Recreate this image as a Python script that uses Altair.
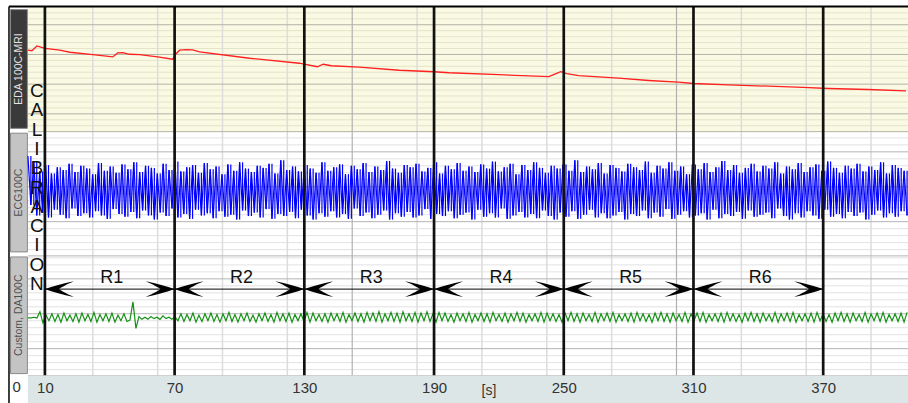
import altair as alt
import pandas as pd

FONT = "Liberation Sans"

# ---------------- time window (s) ----------------
T_LEFT, T_RIGHT = -6.615, 409.23      # visible window, incl. the channel-label column
TRACE_START, TRACE_END = 2.15, 408.8  # first / last sample of the recording

# ---------------- annotations ----------------
markers = [10, 70, 130, 190, 250, 310, 370]
regions = ["R1", "R2", "R3", "R4", "R5", "R6"]
side_word = "CALIBRACION"

# time grid of the acquisition software (every 30 s, heavier every 150 s)
vgrid_light = [32.15, 62.15, 92.15, 122.15, 182.15, 212.15, 242.15, 272.15,
               332.15, 362.15, 392.15]
vgrid_dark = [152.15, 302.15]

# ---------------- EDA 100C-MRI (microsiemens) ----------------
eda_t = [2.15, 4.0, 6.31, 7.69, 10.0, 16.92, 21.54, 32.15, 41.38, 43.69, 46.0,
         49.23, 53.85, 62.15, 69.08, 70.46, 72.31, 75.54, 78.31, 81.54, 104.62,
         127.69, 136.0, 138.77, 142.46, 155.38, 173.85, 190.0, 196.92, 220.0,
         243.08, 245.85, 248.62, 251.38, 256.92, 266.15, 275.38, 289.23, 303.08,
         310.0, 326.15, 344.62, 360.77, 372.31, 390.77, 408.31]
eda_us = [15.71, 15.62, 16.43, 16.29, 16.04, 15.71, 15.37, 14.98, 14.58, 15.25,
          15.32, 15.03, 14.98, 14.58, 14.19, 15.03, 15.71, 15.82, 15.76, 15.45,
          14.36, 13.52, 12.93, 13.35, 13.10, 12.85, 12.34, 12.09, 11.92, 11.59,
          11.25, 11.67, 12.09, 11.76, 11.42, 11.22, 11.00, 10.61, 10.33, 10.11,
          9.87, 9.66, 9.44, 9.27, 9.10, 8.87]

# ---------------- ECG100C (mV), evenly sampled min/max excursions ----------------
ecg_mv = [
    0.44, -0.26, 0.36, -0.41, 0.22, -0.37, 0.31, -0.44, 0.19, -0.33, 0.28, -0.40, 0.24, -0.45, 0.33, -0.31, 0.21, -0.42, 0.30, -0.38,
    0.26, -0.44, 0.18, -0.35, 0.34, -0.41, 0.23, -0.46, 0.29, -0.32, 0.20, -0.39, 0.32, -0.43, 0.25, -0.36, 0.35, -0.45, 0.21, -0.34,
    0.30, -0.41, 0.27, -0.47, 0.19, -0.37, 0.33, -0.42, 0.24, -0.31, 0.36, -0.44, 0.22, -0.39, 0.28, -0.46, 0.31, -0.33, 0.20, -0.41,
    0.34, -0.38, 0.25, -0.45, 0.29, -0.35, 0.18, -0.43, 0.32, -0.40, 0.23, -0.47, 0.35, -0.34, 0.26, -0.42, 0.21, -0.37, 0.30, -0.44,
    0.27, -0.32, 0.33, -0.46, 0.19, -0.39, 0.38, -0.42, 0.24, -0.36, 0.29, -0.45, 0.22, -0.33, 0.31, -0.41, 0.26, -0.47, 0.20, -0.38,
    0.35, -0.43, 0.23, -0.35, 0.28, -0.44, 0.32, -0.39, 0.18, -0.46, 0.30, -0.31, 0.25, -0.42, 0.34, -0.37, 0.21, -0.45, 0.29, -0.40,
    0.24, -0.34, 0.37, -0.47, 0.26, -0.38, 0.20, -0.43, 0.31, -0.36, 0.28, -0.44, 0.33, -0.41, 0.22, -0.32, 0.27, -0.46, 0.35, -0.39,
    0.19, -0.42, 0.30, -0.35, 0.25, -0.45, 0.34, -0.40, 0.23, -0.37, 0.29, -0.47, 0.21, -0.33, 0.32, -0.43, 0.26, -0.38, 0.36, -0.44,
    0.22, -0.31, 0.28, -0.46, 0.33, -0.41, 0.18, -0.36, 0.31, -0.44, 0.24, -0.39, 0.35, -0.45, 0.27, -0.34, 0.20, -0.42, 0.30, -0.47,
    0.26, -0.37, 0.32, -0.43, 0.23, -0.35, 0.38, -0.46, 0.21, -0.40, 0.29, -0.33, 0.25, -0.44, 0.34, -0.38, 0.19, -0.45, 0.31, -0.41,
    0.27, -0.36, 0.22, -0.47, 0.33, -0.39, 0.28, -0.42, 0.24, -0.34, 0.36, -0.45, 0.20, -0.37, 0.30, -0.43, 0.26, -0.32, 0.35, -0.46,
    0.23, -0.40, 0.29, -0.35, 0.18, -0.44, 0.32, -0.41, 0.25, -0.38, 0.34, -0.47, 0.21, -0.33, 0.28, -0.45, 0.37, -0.39, 0.24, -0.42,
    0.31, -0.36, 0.20, -0.46, 0.27, -0.34, 0.33, -0.43, 0.22, -0.40, 0.30, -0.37, 0.26, -0.45, 0.35, -0.31, 0.19, -0.42, 0.29, -0.47,
    0.25, -0.38, 0.34, -0.44, 0.21, -0.35, 0.28, -0.41, 0.32, -0.46, 0.23, -0.33, 0.36, -0.43, 0.27, -0.39, 0.20, -0.45, 0.30, -0.36,
    0.26, -0.42, 0.33, -0.37, 0.22, -0.47, 0.29, -0.40, 0.24, -0.34, 0.35, -0.44, 0.19, -0.38, 0.31, -0.43, 0.27, -0.35, 0.23, -0.41,
]

# ---------------- Custom, DA100C (V), evenly sampled ----------------
da_v = [
    -0.06, -0.06, -0.05, -0.06, 0.03, -0.13, -0.02, -0.10, 0.00, -0.11,
    -0.01, -0.12, 0.01, -0.10, -0.02, -0.11, 0.00, -0.12, 0.01, -0.10,
    -0.01, -0.11, 0.02, -0.12, -0.01, -0.10, 0.00, -0.11, 0.01, -0.12,
    -0.02, -0.10, 0.00, -0.11, -0.09, 0.17, -0.21, -0.04, -0.08, -0.05,
    -0.08, -0.04, -0.07, -0.05, -0.08, -0.03, -0.07, -0.05, -0.08, -0.04,
    -0.10, 0.00, -0.11, -0.01, -0.10, 0.01, -0.12, -0.02, -0.11, 0.00,
    -0.10, 0.01, -0.11, -0.01, -0.12, 0.00, -0.10, 0.02, -0.11, -0.01,
    -0.12, 0.00, -0.10, 0.01, -0.11, -0.02, -0.12, 0.00, -0.10, 0.01,
    -0.11, -0.01, -0.12, 0.02, -0.10, 0.00, -0.11, 0.01, -0.12, -0.01,
    -0.10, 0.00, -0.11, 0.02, -0.12, 0.01, -0.10, -0.01, -0.11, 0.00,
    -0.12, 0.01, -0.10, 0.00, -0.11, 0.02, -0.12, -0.01, -0.10, 0.01,
    -0.11, 0.00, -0.12, 0.02, -0.10, 0.01, -0.11, 0.03, -0.12, 0.00,
    -0.10, 0.02, -0.11, 0.01, -0.12, 0.03, -0.10, 0.00, -0.11, 0.02,
    -0.12, 0.01, -0.10, 0.03, -0.11, 0.00, -0.12, 0.02, -0.10, 0.01,
    -0.11, -0.01, -0.12, 0.01, -0.10, 0.00, -0.11, 0.02, -0.12, -0.01,
    -0.10, 0.01, -0.11, 0.00, -0.12, 0.02, -0.10, -0.01, -0.11, 0.01,
    -0.12, 0.00, -0.10, 0.02, -0.11, 0.01, -0.12, -0.01, -0.10, 0.00,
    -0.11, 0.02, -0.12, 0.01, -0.10, 0.00, -0.11, -0.01, -0.12, 0.01,
    -0.10, 0.02, -0.11, 0.00, -0.12, 0.01, -0.10, -0.01, -0.11, 0.02,
    -0.12, 0.00, -0.10, 0.01, -0.11, 0.02, -0.12, -0.01, -0.10, 0.00,
    -0.11, 0.01, -0.12, 0.02, -0.10, 0.00, -0.11, -0.01, -0.12, 0.01,
    -0.10, 0.02, -0.11, 0.00, -0.12, 0.01, -0.10, -0.01, -0.11, 0.02,
    -0.12, 0.00, -0.10, 0.01, -0.11, 0.02, -0.12, -0.01, -0.10, 0.00,
    -0.11, 0.01, -0.12, 0.02, -0.10, 0.00, -0.11, -0.01, -0.12, 0.01,
    -0.10, 0.02, -0.11, 0.00, -0.12, 0.01, -0.10, -0.01, -0.11, 0.02,
    -0.12, 0.00, -0.10, 0.01, -0.11, 0.02, -0.12, -0.01, -0.10, 0.00,
    -0.11, 0.01, -0.12, 0.02, -0.10, 0.00, -0.11, -0.01, -0.12, 0.01,
    -0.10, 0.02, -0.11, 0.00, -0.12, 0.01, -0.10, -0.01, -0.11, 0.02,
    -0.12, 0.00, -0.10, 0.01, -0.11, 0.02, -0.12, -0.01, -0.10, 0.00,
    -0.11, 0.01, -0.12, 0.02,
]

# grid levels of each channel, in the channel's own units
eda_minor = [3, 4, 6, 7, 8, 9, 11, 12, 13, 14, 16, 17, 18, 19, 21, 22]
eda_major = [5, 10, 15, 20]
ecg_minor = [-0.9, -0.8, -0.7, -0.6, -0.4, -0.3, -0.2, -0.1, 0.1, 0.2, 0.3, 0.4, 0.6, 0.7]
ecg_major = [-0.5, 0.0, 0.5]
da_minor = [-0.8, -0.7, -0.6, -0.4, -0.3, -0.2, -0.1, 0.1, 0.2, 0.3, 0.4, 0.6, 0.7, 0.8]
da_major = [-0.5, 0.0, 0.5]

ARROW_LEVEL = 0.353   # V, height of the region arrows in the DA100C lane
LABEL_LEVEL = 0.507   # V, height of the region names

# ---------------- layout ----------------
W, H = 901, 399
PANELS = [
    dict(name="EDA 100C-MRI", domain=[2, 23], rng=[125.5, 0.5], fill="#fafae4",
         minor=eda_minor, major=eda_major, minor_color="#e4e4c8", major_color="#b2b2a6",
         strip=[2.55, 22.55], strip_fill="#3a3a3a", strip_stroke="#8a8a8a", strip_text="#e4e4e4"),
    dict(name="ECG100C", domain=[-0.99, 0.789], rng=[250, 125.5], fill="#ffffff",
         minor=ecg_minor, major=ecg_major, minor_color="#e2e2e2", major_color="#b4b4b4",
         strip=[-0.933, 0.767], strip_fill="#c4c4c4", strip_stroke="#8a8a8a", strip_text="#505050"),
    dict(name="Custom, DA100C", domain=[-0.886, 0.829], rng=[370, 250], fill="#ffffff",
         minor=da_minor, major=da_major, minor_color="#e2e2e2", major_color="#b4b4b4",
         strip=[-0.857, 0.814], strip_fill="#c4c4c4", strip_stroke="#8a8a8a", strip_text="#505050"),
]
STRIP_T = [-5.9, 1.9]
FRAME = alt.Scale(domain=[0, 1], range=[370, 0], nice=False, zero=False)   # lanes area
FULL = alt.Scale(domain=[0, 1], range=[H, 0], nice=False, zero=False)      # whole plot
BAR = alt.Scale(domain=[0, 1], range=[H, 370], nice=False, zero=False)     # time bar

XS = alt.Scale(domain=[T_LEFT, T_RIGHT], nice=False, zero=False)
XAXIS = alt.Axis(values=markers, title="[s]", labelFont=FONT, labelFontSize=15,
                 labelColor="#333333", domain=False, ticks=False, grid=False,
                 labelPadding=5, offset=-29, zindex=1, labelFlush=False,
                 titleFont=FONT, titleFontSize=14, titleFontWeight="normal",
                 titleColor="#333333", titleX=480.5, titleY=15,
                 titleBaseline="middle", titleAlign="center")


def X(field):
    return alt.X(f"{field}:Q", scale=XS, axis=XAXIS)


def Y(field, scale):
    return alt.Y(f"{field}:Q", scale=scale, axis=None)


def yscale(p):
    return alt.Scale(domain=p["domain"], range=p["rng"], nice=False, zero=False)


def sampled(values):
    step = (TRACE_END - TRACE_START) / (len(values) - 1)
    df = pd.DataFrame({"t": [TRACE_START + i * step for i in range(len(values))],
                       "v": values})
    df["pv"] = df["v"].shift(1).fillna(df["v"])
    return df


backs, minors, majors, strips = [], [], [], []
for p in PANELS:
    ys = yscale(p)
    bg = pd.DataFrame({"t0": [TRACE_START], "t1": [T_RIGHT],
                       "lo": [p["domain"][0]], "hi": [p["domain"][1]]})
    backs.append(alt.Chart(bg).mark_rect(fill=p["fill"]).encode(
        x=X("t0"), x2="t1", y=Y("lo", ys), y2="hi"))
    for lv, col, key in [(p["minor"], p["minor_color"], "minor"),
                         (p["major"] + [p["domain"][0]], p["major_color"], "major")]:
        g = pd.DataFrame({"v": lv, "t0": TRACE_START, "t1": T_RIGHT})
        layer = alt.Chart(g).mark_rule(color=col, strokeWidth=1).encode(
            x=X("t0"), x2="t1", y=Y("v", ys))
        (minors if key == "minor" else majors).append(layer)
    st = pd.DataFrame({"t0": [STRIP_T[0]], "t1": [STRIP_T[1]],
                       "lo": [p["strip"][0]], "hi": [p["strip"][1]],
                       "tm": [(STRIP_T[0] + STRIP_T[1]) / 2],
                       "vm": [(p["strip"][0] + p["strip"][1]) / 2],
                       "label": [p["name"]]})
    strips.append(alt.Chart(st).mark_rect(fill=p["strip_fill"], stroke=p["strip_stroke"],
                                          strokeWidth=1).encode(
        x=X("t0"), x2="t1", y=Y("lo", ys), y2="hi"))
    strips.append(alt.Chart(st).mark_text(font=FONT, fontSize=10.5, angle=270,
                                          color=p["strip_text"], baseline="middle",
                                          align="center").encode(
        x=X("tm"), y=Y("vm", ys), text="label:N"))

vgrid = [
    alt.Chart(pd.DataFrame({"t": vgrid_light})).mark_rule(color="#dcdcdc", strokeWidth=1.5)
    .encode(x=X("t")),
    alt.Chart(pd.DataFrame({"t": vgrid_dark})).mark_rule(color="#b0b0b0", strokeWidth=1.2)
    .encode(x=X("t")),
]

eda = alt.Chart(pd.DataFrame({"t": eda_t, "v": eda_us})).mark_line(
    color="#ff2020", strokeWidth=1.3).encode(x=X("t"), y=Y("v", yscale(PANELS[0])))

# ECG drawn as the recorder does at this zoom: the trace plus a vertical
# min/max stroke at every sample column
ecg_df = sampled(ecg_mv)
ys2 = yscale(PANELS[1])
ecg = alt.Chart(ecg_df).mark_line(color="#0000ff", strokeWidth=1.2).encode(
    x=X("t"), y=Y("v", ys2))
ecg_cols = alt.Chart(ecg_df).mark_rule(color="#0000ff", strokeWidth=1.2).encode(
    x=X("t"), y=Y("pv", ys2), y2="v")

da = alt.Chart(sampled(da_v)).mark_line(color="#159015", strokeWidth=1.2).encode(
    x=X("t"), y=Y("v", yscale(PANELS[2])))

# thick segment boundaries
mk = pd.DataFrame({"t": markers, "lo": 0, "hi": 1})
marker_rules = alt.Chart(mk).mark_rule(color="#111111", strokeWidth=2.7).encode(
    x=X("t"), y=Y("lo", FRAME), y2="hi")

# double-headed arrows with region names
reg = pd.DataFrame({"start": markers[:-1], "end": markers[1:], "name": regions})
reg["mid"] = (reg["start"] + reg["end"]) / 2
reg["lvl"] = ARROW_LEVEL
reg["tl"] = LABEL_LEVEL
ys3 = yscale(PANELS[2])
HEAD_L = ("M0,0 C0.55,-0.2 1.24,-0.4 2,-0.55 C1.52,-0.34 1.12,-0.13 0.97,0 "
          "C1.12,0.13 1.52,0.34 2,0.55 C1.24,0.4 0.55,0.2 0,0 Z")
HEAD_R = ("M0,0 C-0.55,-0.2 -1.24,-0.4 -2,-0.55 C-1.52,-0.34 -1.12,-0.13 -0.97,0 "
          "C-1.12,0.13 -1.52,0.34 -2,0.55 C-1.24,0.4 -0.55,0.2 0,0 Z")
shafts = alt.Chart(reg).mark_rule(color="#000000", strokeWidth=1).encode(
    x=X("start"), x2="end", y=Y("lvl", ys3))
heads_l = alt.Chart(reg).mark_point(shape=HEAD_L, size=841, filled=True, color="#000000",
                                    opacity=1, strokeWidth=0).encode(
    x=X("start"), y=Y("lvl", ys3))
heads_r = alt.Chart(reg).mark_point(shape=HEAD_R, size=841, filled=True, color="#000000",
                                    opacity=1, strokeWidth=0).encode(
    x=X("end"), y=Y("lvl", ys3))
reg_text = alt.Chart(reg).mark_text(font=FONT, fontSize=18, color="#111111",
                                    baseline="middle", align="center", dx=2).encode(
    x=X("mid"), y=Y("tl", ys3), text="name:N")

# vertical lettering
letters = pd.DataFrame({"ch": list(side_word), "i": list(range(len(side_word))), "t": 6.3})
side = alt.Chart(letters).mark_text(font=FONT, fontSize=19, color="#111111",
                                    baseline="middle", align="center").encode(
    x=X("t"), y=alt.Y("i:Q", scale=alt.Scale(domain=[0, len(side_word) - 1],
                                             range=[85, 278], nice=False, zero=False),
                      axis=None),
    text="ch:N")

# time bar
bar_df = pd.DataFrame({"t0": [TRACE_START], "t1": [T_RIGHT], "lo": [0], "hi": [1],
                       "tv": [0.6], "label": ["0"]})
bar = alt.Chart(bar_df).mark_rect(fill="#dde6e6").encode(
    x=X("t0"), x2="t1", y=Y("lo", BAR), y2="hi")
zero_lbl = alt.Chart(bar_df).mark_text(font=FONT, fontSize=15, color="#333333",
                                       align="right", baseline="middle", dx=-7).encode(
    x=X("t0"), y=Y("tv", BAR), text="label:N")

# outer frame: top and left edges
frame_df = pd.DataFrame({"t0": [T_LEFT], "t1": [T_RIGHT], "lo": [0], "hi": [1]})
top_edge = alt.Chart(frame_df).mark_rule(color="#000000", strokeWidth=2).encode(
    x=X("t0"), x2="t1", y=Y("hi", FULL))
left_edge = alt.Chart(frame_df).mark_rule(color="#000000", strokeWidth=1.5).encode(
    x=X("t0"), y=Y("lo", FULL), y2="hi")

layers = (backs + minors + vgrid + majors + strips +
          [eda, ecg_cols, ecg, da, marker_rules, shafts, heads_l, heads_r, reg_text, side,
           bar, zero_lbl, top_edge, left_edge])

chart = alt.layer(*layers).resolve_scale(y="independent").properties(
    width=W, height=H,
    autosize=alt.AutoSizeParams(type="none"),
    padding={"left": 9, "top": 6, "right": 0, "bottom": 0},
    background="#ffffff",
).configure_view(strokeWidth=0)

chart.save("out.html", embed_options={"renderer": "svg", "actions": False})
